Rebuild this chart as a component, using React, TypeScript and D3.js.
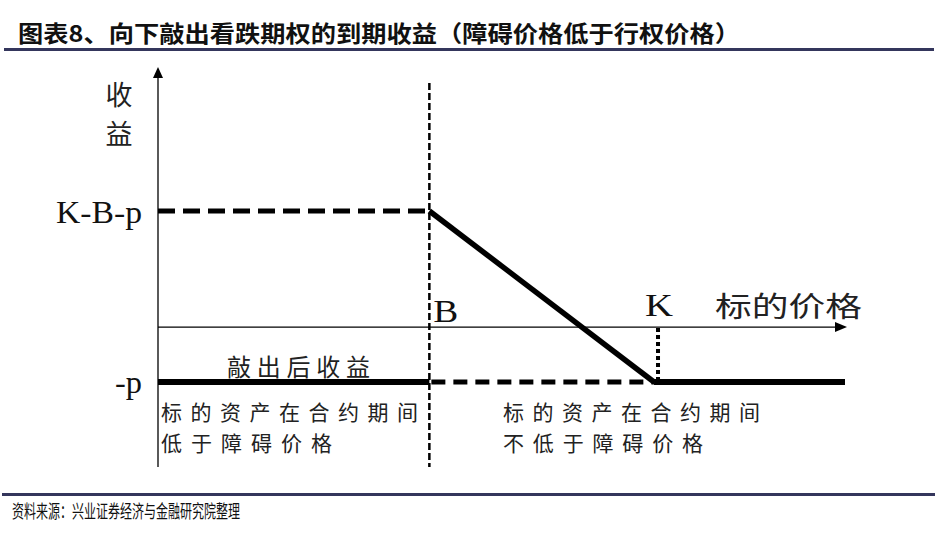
import React from 'react';
import * as d3 from 'd3';

// abstract payoff diagram values (price units / payoff units)
const barrierPrice = 39.5;
const strikePrice = 72.2;
const premium = 10.5;
const axisEndPrice = 100;
const payoffLevels = [strikePrice - barrierPrice - premium, 0, -premium];
const levelLabels = ['K-B-p', '-p'];
const pointLabels = ['B', 'K'];

const title = '图表8、向下敲出看跌期权的到期收益（障碍价格低于行权价格）';
const source = '资料来源：兴业证券经济与金融研究院整理';
const yAxisLabel = ['收', '益'];
const xAxisLabel = '标的价格';
const knockOutLabel = '敲出后收益';
const leftRegion = ['标的资产在合约期间', '低于障碍价格'];
const rightRegion = ['标的资产在合约期间', '不低于障碍价格'];

const W = 938;
const H = 539;
const cjk = '"Noto Sans CJK SC", "Noto Sans", sans-serif';
const serif = '"Liberation Serif", "DejaVu Serif", serif';
const navy = '#34365c';

export default function App() {
  const x = d3.scaleLinear().domain([0, axisEndPrice]).range([158, 845]);
  const y = d3.scaleLinear().domain([payoffLevels[2], payoffLevels[0]]).range([382, 211]);

  const xB = x(barrierPrice);
  const xK = x(strikePrice);
  const yHigh = y(payoffLevels[0]);
  const yZero = y(payoffLevels[1]);
  const yLow = y(payoffLevels[2]);
  const x0 = x(0);
  const xEnd = x(axisEndPrice);
  const yTop = 67;
  const yBottom = 467;

  const line = d3.line<[number, number]>();
  const payoffBefore: [number, number][] = [[x0, yLow], [xB, yLow]];
  const payoffSlope: [number, number][] = [[xB, yHigh], [xK, yLow]];
  const payoffAfter: [number, number][] = [[xK, yLow], [xEnd, yLow]];

  return (
    <svg width={W} height={H} style={{ position: 'absolute', left: 0, top: 0, background: '#fff' }}>
      <rect width={W} height={H} fill="#fff" />
      {/* header */}
      <text x={18} y={42} fontFamily={cjk} fontWeight="bold" fontSize={23} fill="#111"
        textLength={722} lengthAdjust="spacingAndGlyphs">{title}</text>
      <rect x={4} y={48} width={930} height={3} fill={navy} />

      {/* axes */}
      <line x1={x0} y1={yTop + 8} x2={x0} y2={yBottom} stroke="#000" strokeWidth={1.3} />
      <path d={`M${x0},${yTop} L${x0 - 5},${yTop + 11} L${x0 + 5},${yTop + 11} Z`} fill="#000" />
      <line x1={x0} y1={yZero} x2={xEnd - 8} y2={yZero} stroke="#000" strokeWidth={1.2} />
      <path d={`M${xEnd + 2},${yZero} L${xEnd - 10},${yZero - 5} L${xEnd - 10},${yZero + 5} Z`} fill="#000" />

      {/* barrier vertical */}
      <line x1={xB} y1={83} x2={xB} y2={yBottom} stroke="#000" strokeWidth={2.5} strokeDasharray="7 3" />
      {/* strike dotted */}
      <line x1={xK + 4} y1={yZero + 1} x2={xK + 4} y2={yLow - 3} stroke="#000" strokeWidth={4} strokeDasharray="4 3" />

      {/* K-B-p dashed level */}
      <line x1={x0} y1={yHigh} x2={xB} y2={yHigh} stroke="#000" strokeWidth={5} strokeDasharray="17 8" />
      {/* -p dashed after barrier */}
      <line x1={xB + 2} y1={yLow} x2={xK} y2={yLow} stroke="#000" strokeWidth={5} strokeDasharray="14 8" />

      {/* payoff */}
      <path d={line(payoffBefore) ?? ''} stroke="#000" strokeWidth={6} fill="none" />
      <path d={line(payoffSlope) ?? ''} stroke="#000" strokeWidth={5.5} fill="none" />
      <path d={line(payoffAfter) ?? ''} stroke="#000" strokeWidth={6} fill="none" />

      {/* labels */}
      {yAxisLabel.map((t, i) => (
        <text key={t} x={119} y={105 + i * 39} textAnchor="middle" fontFamily={cjk} fontSize={27} fill="#222">{t}</text>
      ))}
      <text x={142} y={223} textAnchor="end" fontFamily={serif} fontSize={31} fill="#111"
        textLength={86} lengthAdjust="spacingAndGlyphs">{levelLabels[0]}</text>
      <text x={142} y={393} textAnchor="end" fontFamily={serif} fontSize={31} fill="#111"
        textLength={27} lengthAdjust="spacingAndGlyphs">{levelLabels[1]}</text>
      <text x={xB + 4} y={322} fontFamily={serif} fontSize={31} fill="#111"
        textLength={25} lengthAdjust="spacingAndGlyphs">{pointLabels[0]}</text>
      <text x={xK - 9} y={316} fontFamily={serif} fontSize={31} fill="#111"
        textLength={28} lengthAdjust="spacingAndGlyphs">{pointLabels[1]}</text>
      <text x={715} y={317} fontFamily={cjk} fontSize={28} fill="#222"
        textLength={147} lengthAdjust="spacingAndGlyphs">{xAxisLabel}</text>

      <text x={227} y={376} fontFamily={cjk} fontSize={24} fill="#222"
        textLength={143} lengthAdjust="spacing">{knockOutLabel}</text>
      {leftRegion.map((t, i) => (
        <text key={t} x={161} y={420 + i * 31} fontFamily={cjk} fontSize={21} fill="#222"
          textLength={i === 0 ? 257 : 171} lengthAdjust="spacing">{t}</text>
      ))}
      {rightRegion.map((t, i) => (
        <text key={t} x={503} y={420 + i * 31} fontFamily={cjk} fontSize={21} fill="#222"
          textLength={i === 0 ? 257 : 200} lengthAdjust="spacing">{t}</text>
      ))}

      {/* footer */}
      <rect x={2} y={493} width={933} height={3} fill={navy} />
      <text x={12} y={518} fontFamily={cjk} fontSize={18} fill="#111"
        textLength={228} lengthAdjust="spacingAndGlyphs">{source}</text>
    </svg>
  );
}
